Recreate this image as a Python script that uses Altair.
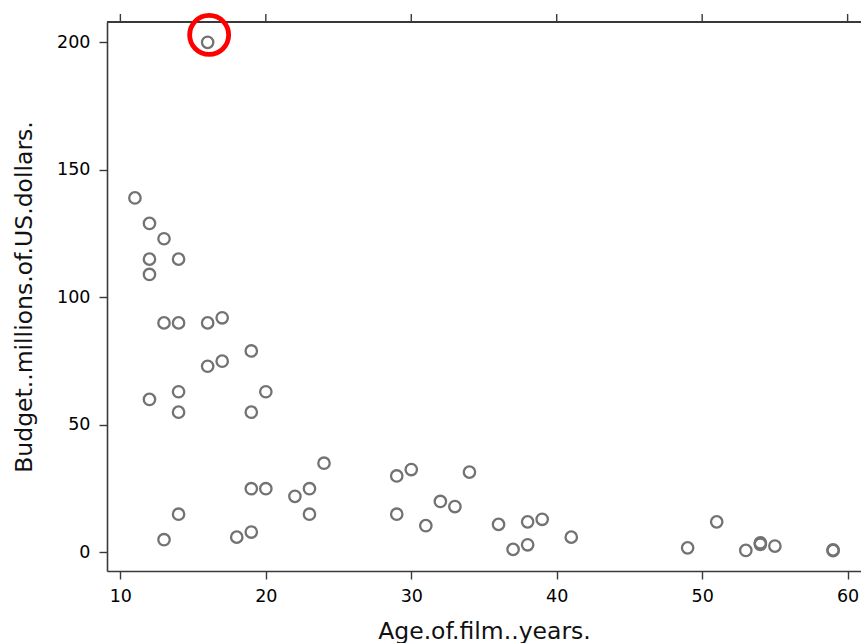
import altair as alt
import pandas as pd

# Film age (years) and budget (millions of US dollars)
age = [16, 11, 12, 13, 12, 14, 12, 13, 14, 16, 17, 19, 17, 16, 12, 14, 20, 14, 19,
       24, 29, 30, 34, 19, 20, 23, 22, 14, 23, 29, 32, 33, 31, 36, 38, 39, 41, 13,
       18, 19, 37, 38, 49, 51, 53, 54, 54, 55, 59, 59]
budget = [200, 139, 129, 123, 115, 115, 109, 90, 90, 90, 92, 79, 75, 73, 60, 63, 63, 55, 55,
          35, 30, 32.5, 31.5, 25, 25, 25, 22, 15, 15, 15, 20, 18, 10.5, 11, 12, 13, 6, 5,
          6, 8, 1.2, 3, 1.8, 12, 0.8, 3.2, 3.8, 2.5, 0.7, 1.0]

# The film singled out with a red ring
highlight_age = [16]
highlight_budget = [200]

# Tick positions
x_ticks = [10, 20, 30, 40, 50, 60]
y_ticks = [0, 50, 100, 150, 200]

X_TITLE = "Age.of.film..years."
Y_TITLE = "Budget..millions.of.US.dollars."

W, H = 754, 549

films = pd.DataFrame({"age": age, "budget": budget})
flagged = pd.DataFrame({"age": highlight_age, "budget": highlight_budget})
top_marks = pd.DataFrame({"age": x_ticks})

x_scale = alt.Scale(domain=[9.08, 60.92], nice=False, zero=False)
y_scale = alt.Scale(domain=[-7.27, 207.97], nice=False, zero=False)

FRAME = "#3a3a3a"

points = alt.Chart(films).mark_point(
    shape="circle", filled=False, size=130, strokeWidth=2.3, color="#727272", opacity=1
).encode(
    x=alt.X("age:Q", scale=x_scale,
            axis=alt.Axis(orient="bottom", values=x_ticks, title=X_TITLE,
                          labelPadding=8, titlePadding=15)),
    y=alt.Y("budget:Q", scale=y_scale,
            axis=alt.Axis(orient="left", values=y_ticks, title=Y_TITLE,
                          labelPadding=9, titlePadding=20)),
)

# Dark top edge of the panel and its outward ticks
top_edge = alt.Chart(top_marks).mark_rule(color=FRAME, strokeWidth=1.6).encode(
    x=alt.value(0), x2=alt.value(W), y=alt.value(0),
)
top_ticks = alt.Chart(top_marks).mark_rule(color=FRAME, strokeWidth=1.4).encode(
    x=alt.X("age:Q", scale=x_scale),
    y=alt.value(-8),
    y2=alt.value(0),
)

ring = alt.Chart(flagged).mark_point(
    shape="circle", filled=False, size=1520, strokeWidth=4.8, color="#ff0000", opacity=1,
    xOffset=1.5, yOffset=-7.4,
).encode(
    x=alt.X("age:Q", scale=x_scale),
    y=alt.Y("budget:Q", scale=y_scale),
)

chart = alt.layer(points, top_edge, top_ticks, ring).properties(
    width=W, height=H,
    autosize=alt.AutoSizeParams(type="none"),
    padding={"left": 107, "top": 22, "right": 0, "bottom": 72},
    background="white",
).configure_view(
    stroke="#cfcfcf", strokeWidth=1
).configure_axis(
    domain=True, domainColor=FRAME, domainWidth=1.6, grid=False,
    tickColor=FRAME, tickWidth=1.4, tickSize=8,
    labelFont="DejaVu Sans", labelFontSize=17.5, labelColor="#000000",
    titleFont="DejaVu Sans", titleFontSize=23.5, titleFontWeight="normal", titleColor="#111111",
)

chart.save("out.html", embed_options={"renderer": "svg", "actions": False})
